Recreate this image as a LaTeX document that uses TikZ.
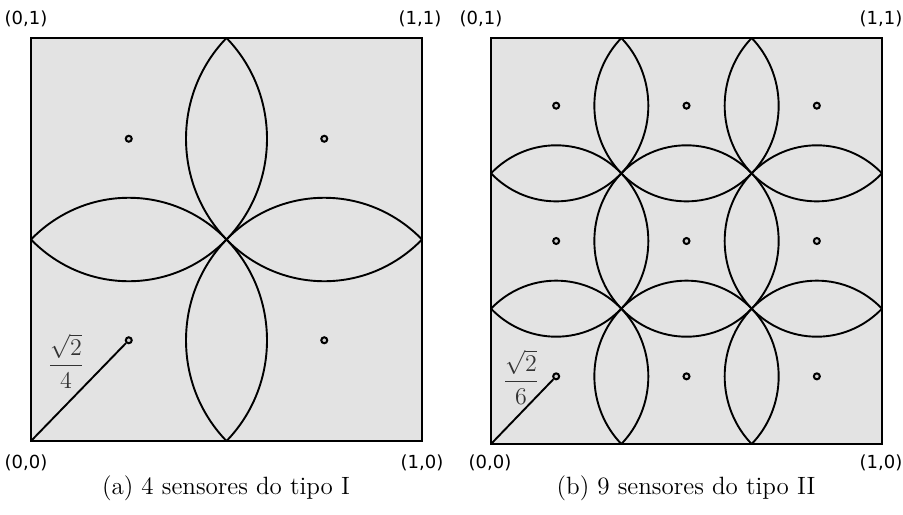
\documentclass[tikz,border=0pt]{standalone}
\usepackage{fontspec}
\usepackage{amsmath}
\usetikzlibrary{positioning}
\newfontfamily\cornerfont{DejaVu Sans}
\definecolor{sqgray}{HTML}{E3E3E3}

\begin{document}
\begin{tikzpicture}[x=0.5pt, y=-0.5pt,
    border/.style={draw=black, line width=1.3pt},
    lens/.style={draw=black, line width=0.95pt},
    sensor/.style={circle, draw=black, fill=sqgray!60!black!40, line width=1pt, inner sep=0pt, minimum size=3pt},
    corner/.style={font=\cornerfont\fontsize{9}{11}\selectfont},
    radlabel/.style={font=\fontsize{12}{14}\selectfont, text=black!80},
    caption/.style={font=\fontsize{12.5}{15}\selectfont}]
  \useasboundingbox (0,0) rectangle (903,514);

  % (a) 4 sensores
  \begin{scope}[shift={(31,441)}, xscale=391, yscale=-403]
    \fill[sqgray] (0,0) rectangle (1,1);
    \begin{scope}
      \clip (0,0) rectangle (1,1);
      \foreach \i in {1,3}
        \foreach \j in {1,3}
          \draw[lens] (\i/4,\j/4) circle [radius={sqrt(2)/4}];
    \end{scope}
    \draw[border] (0,0) rectangle (1,1);
    \coordinate (a00) at (0,0);
    \foreach \i in {1,3}
      \foreach \j in {1,3}
        \node[sensor] (a\i\j) at (\i/4,\j/4) {};
  \end{scope}
  \draw[lens] (a00) -- (a11);
  \node[radlabel] (ra) at (66,361) {$\dfrac{\sqrt{2}}{4}$};
  \node[corner] (a01c) at (26,19) {(0,1)};
  \node[corner] (a11c) at (420,19) {(1,1)};
  \node[corner] (a00c) at (26,463) {(0,0)};
  \node[corner] (a10c) at (422,463) {(1,0)};
  \node[caption] (capa) at (226,488) {(a) 4 sensores do tipo I};

  % (b) 9 sensores
  \begin{scope}[shift={(491,444)}, xscale=391, yscale=-406]
    \fill[sqgray] (0,0) rectangle (1,1);
    \begin{scope}
      \clip (0,0) rectangle (1,1);
      \foreach \i in {1,3,5}
        \foreach \j in {1,3,5}
          \draw[lens] (\i/6,\j/6) circle [radius={sqrt(2)/6}];
    \end{scope}
    \draw[border] (0,0) rectangle (1,1);
    \coordinate (b00) at (0,0);
    \foreach \i in {1,3,5}
      \foreach \j in {1,3,5}
        \node[sensor] (b\i\j) at (\i/6,\j/6) {};
  \end{scope}
  \draw[lens] (b00) -- (b11);
  \node[radlabel] (rb) at (521,377) {$\dfrac{\sqrt{2}}{6}$};
  \node[corner] (b01c) at (481,19) {(0,1)};
  \node[corner] (b11c) at (881,19) {(1,1)};
  \node[corner] (b00c) at (490,463) {(0,0)};
  \node[corner] (b10c) at (881,463) {(1,0)};
  \node[caption] (capb) at (686,488) {(b) 9 sensores do tipo II};
\end{tikzpicture}
\end{document}
